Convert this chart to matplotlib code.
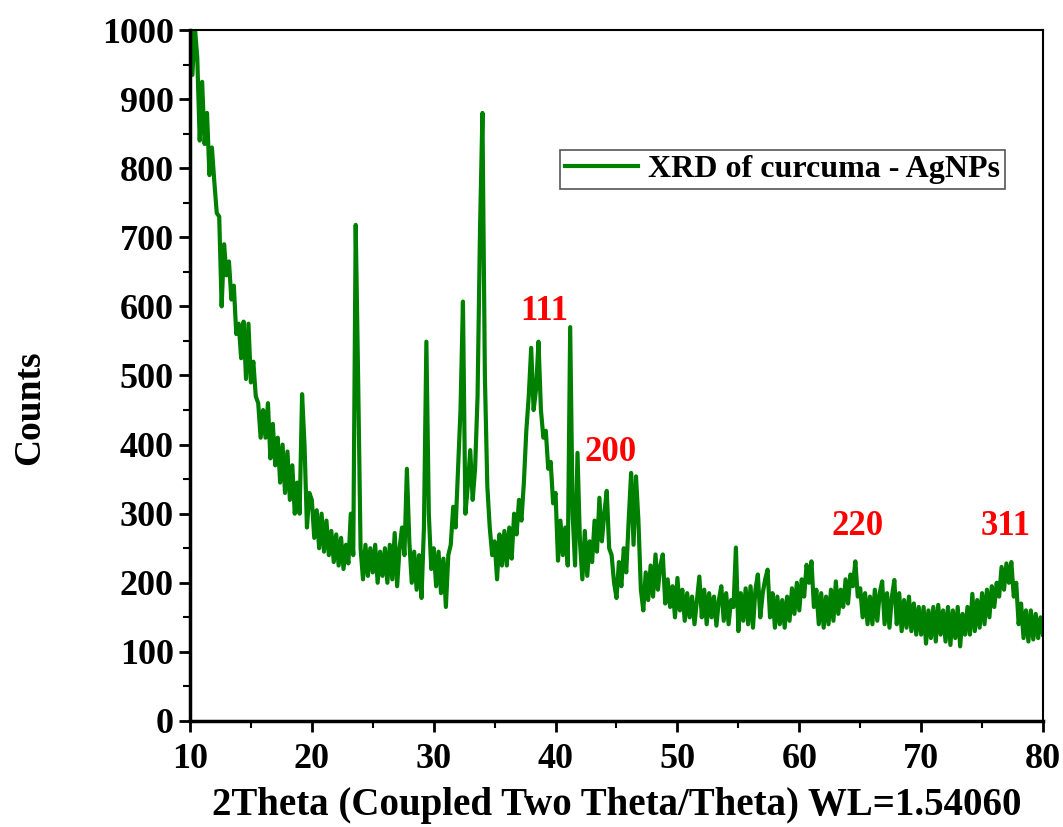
import numpy as np
import matplotlib.pyplot as plt
from matplotlib.ticker import MultipleLocator

plt.rcParams['font.family'] = ['Liberation Serif', 'DejaVu Serif']
plt.rcParams['font.weight'] = 'bold'

# 2theta grid, 0.2 deg steps from 10 to 80
two_theta = np.round(np.arange(10.0, 80.0001, 0.2), 1)

# counts, one row per 2 degrees
counts = [
    1020, 935, 1005, 960, 840, 925, 835, 880, 790, 830,   # 10.0 - 11.8
    780, 735, 730, 600, 690, 645, 665, 610, 630, 560,     # 12.0 - 13.8
    575, 525, 578, 495, 575, 490, 520, 470, 460, 410,     # 14.0 - 15.8
    450, 410, 460, 380, 430, 370, 410, 345, 400, 330,     # 16.0 - 17.8
    390, 320, 370, 300, 345, 300, 473, 400, 280, 330,     # 18.0 - 19.8
    320, 265, 305, 250, 300, 245, 290, 240, 275, 230,     # 20.0 - 21.8
    270, 225, 265, 220, 255, 228, 300, 240, 718, 495,     # 22.0 - 23.8
    250, 205, 255, 210, 250, 215, 255, 200, 245, 210,     # 24.0 - 25.8
    250, 200, 255, 205, 272, 195, 250, 280, 240, 365,     # 26.0 - 27.8
    260, 200, 245, 190, 240, 178, 280, 549, 300, 220,     # 28.0 - 29.8
    250, 195, 245, 185, 235, 165, 240, 255, 310, 280,     # 30.0 - 31.8
    366, 450, 607, 300, 340, 392, 320, 366, 470, 710,     # 32.0 - 33.8
    880, 500, 340, 280, 240, 260, 205, 270, 225, 275,     # 34.0 - 35.8
    225, 280, 235, 300, 270, 320, 290, 345, 420, 470,     # 36.0 - 37.8
    540, 450, 480, 549, 450, 410, 420, 365, 375, 315,     # 38.0 - 39.8
    330, 232, 290, 240, 280, 225, 570, 300, 225, 388,     # 40.0 - 41.8
    260, 205, 275, 210, 260, 230, 290, 245, 323, 260,     # 42.0 - 43.8
    300, 333, 250, 240, 200, 178, 230, 195, 250, 215,     # 44.0 - 45.8
    290, 359, 255, 354, 290, 190, 160, 215, 175, 225,     # 46.0 - 47.8
    180, 241, 190, 225, 241, 170, 205, 165, 195, 150,     # 48.0 - 49.8
    207, 160, 190, 145, 185, 150, 180, 140, 175, 209,     # 50.0 - 51.8
    150, 190, 140, 185, 150, 180, 138, 175, 195, 145,     # 52.0 - 53.8
    185, 140, 175, 165, 251, 130, 185, 145, 192, 140,     # 54.0 - 55.8
    195, 135, 190, 212, 150, 185, 205, 219, 150, 185,     # 56.0 - 57.8
    135, 180, 140, 175, 135, 180, 145, 192, 155, 200,     # 58.0 - 59.8
    160, 205, 180, 226, 200, 231, 165, 190, 140, 185,     # 60.0 - 61.8
    135, 180, 140, 190, 145, 202, 155, 190, 165, 205,     # 62.0 - 63.8
    170, 212, 195, 231, 180, 192, 150, 185, 140, 180,     # 64.0 - 65.8
    140, 190, 145, 185, 202, 140, 185, 135, 180, 204,     # 66.0 - 67.8
    140, 185, 130, 175, 135, 180, 130, 170, 125, 165,     # 68.0 - 69.8
    125, 165, 112, 160, 120, 165, 115, 168, 125, 160,     # 70.0 - 71.8
    115, 165, 110, 160, 120, 165, 108, 155, 125, 165,     # 72.0 - 73.8
    125, 184, 130, 175, 135, 185, 140, 190, 150, 195,     # 74.0 - 75.8
    165, 200, 180, 223, 190, 228, 200, 230, 180, 200,     # 76.0 - 77.8
    140, 170, 120, 160, 115, 160, 118, 155, 120, 150,     # 78.0 - 79.8
    125,                                                  # 80.0
]

peak_labels = ['111', '200', '220', '311']
peak_label_x = [39.1, 44.5, 64.8, 76.9]
peak_label_y = [592, 389, 282, 282]

fig = plt.figure(figsize=(10.63, 8.27), dpi=100)
ax = fig.add_axes([0.1787, 0.1282, 0.8025, 0.8355])

ax.plot(two_theta, counts, color='#008000', lw=3, label='XRD of curcuma - AgNPs')

for txt, x, y in zip(peak_labels, peak_label_x, peak_label_y):
    ax.text(x, y, txt, color='red', fontsize=25, fontweight='bold',
            ha='center', va='center')

ax.set_xlim(10, 80)
ax.set_ylim(0, 1000)
ax.xaxis.set_major_locator(MultipleLocator(10))
ax.xaxis.set_minor_locator(MultipleLocator(5))
ax.yaxis.set_major_locator(MultipleLocator(100))
ax.yaxis.set_minor_locator(MultipleLocator(50))
ax.tick_params(which='major', direction='out', length=8, width=2, labelsize=26)
ax.tick_params(which='minor', direction='out', length=5, width=1.5)
ax.tick_params(top=False, right=False)
ax.tick_params(axis='x', pad=8)
for lab in ax.get_xticklabels() + ax.get_yticklabels():
    lab.set_fontweight('bold')
for s in ['left', 'bottom']:
    ax.spines[s].set_linewidth(2.5)
for s in ['top', 'right']:
    ax.spines[s].set_linewidth(1.5)

ax.set_xlabel('2Theta (Coupled Two Theta/Theta) WL=1.54060', fontsize=28,
              fontweight='bold', labelpad=8)
ax.set_ylabel('Counts', fontsize=27, fontweight='bold')
ax.yaxis.set_label_coords(-0.168, 0.454)

leg = ax.legend(loc='upper left', bbox_to_anchor=(0.434, 0.826), borderaxespad=0,
                fancybox=False, edgecolor='#555555', framealpha=1,
                prop={'size': 23, 'weight': 'bold'}, handlelength=2.3,
                borderpad=0.15, handletextpad=0.3)
leg.get_frame().set_linewidth(1.2)
for line in leg.get_lines():
    line.set_linewidth(3)

fig.savefig('out.png', dpi=100)
